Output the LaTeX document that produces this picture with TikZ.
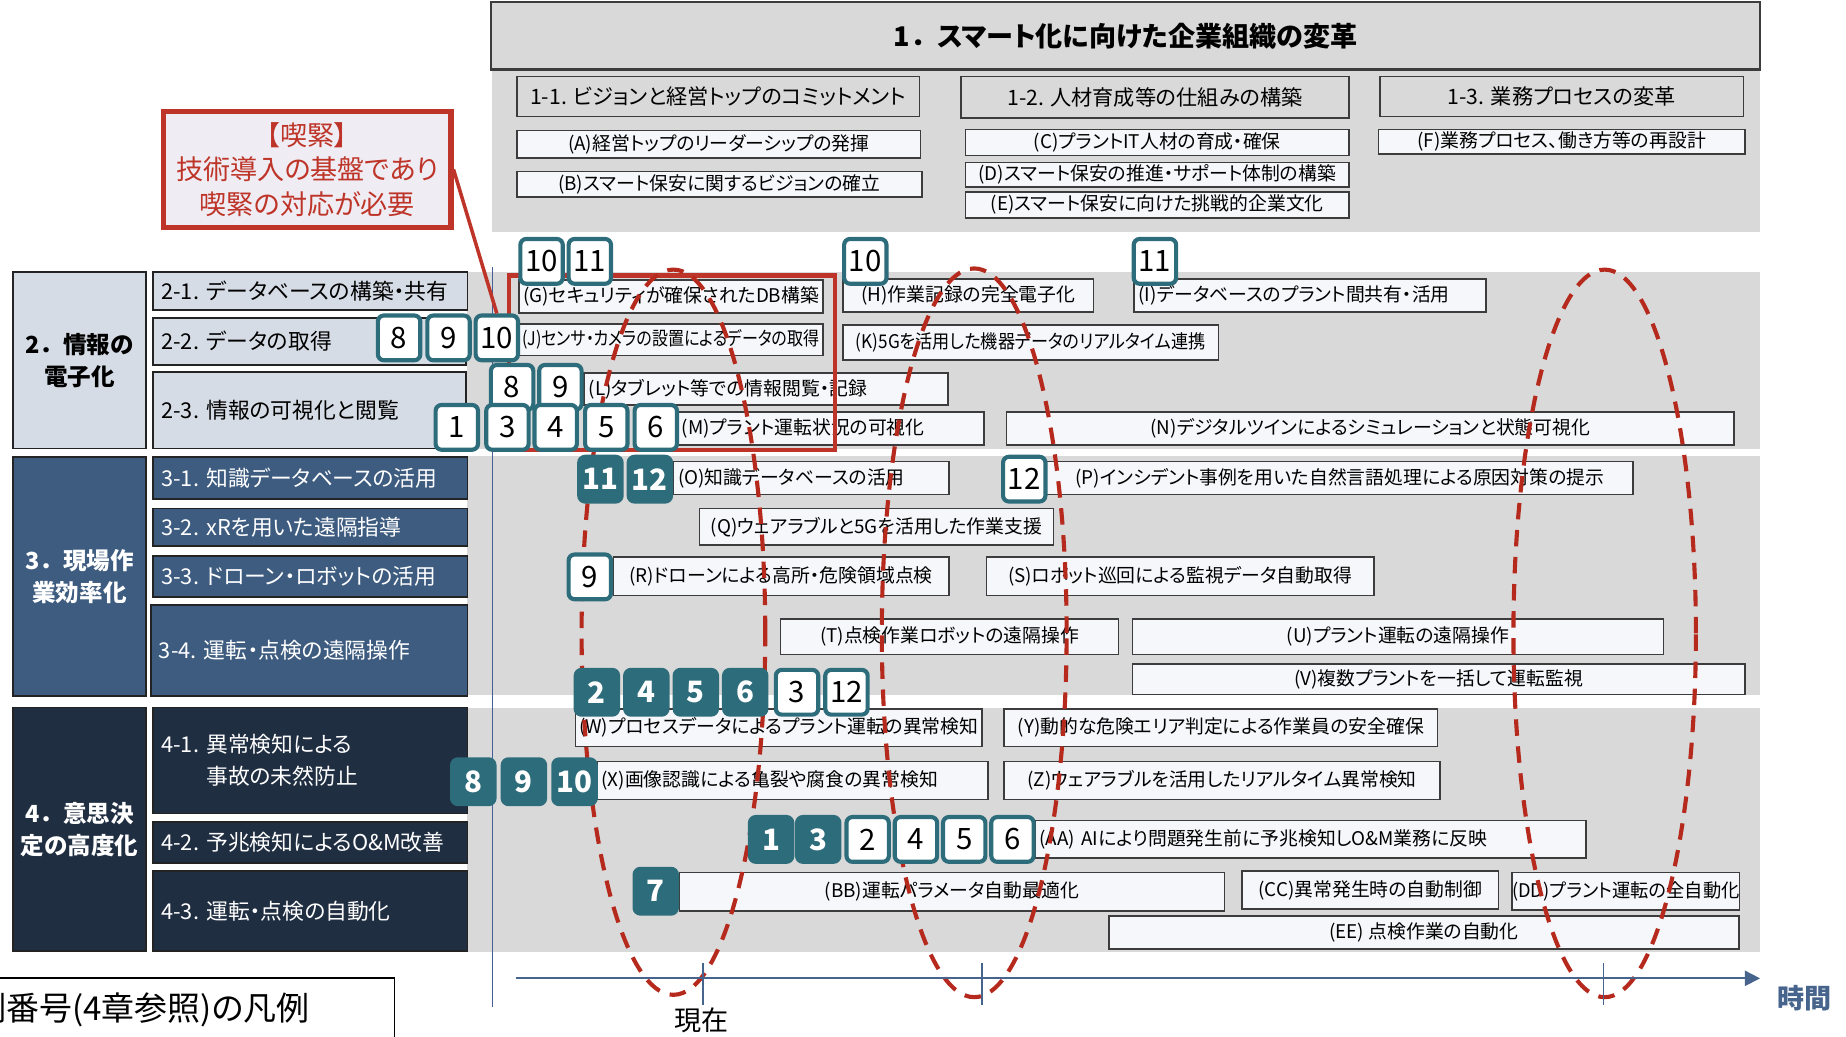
\documentclass[tikz,border=0pt]{standalone}
\usepackage{fontspec}
\setmainfont{Noto Sans CJK JP}[RawFeature=+palt]
\newfontfamily\fullw{Noto Sans CJK JP}
\usepackage{xcolor}
\usepackage{graphicx}
\usepackage{tikz}
\usetikzlibrary{arrows.meta}
\definecolor{bggray}{RGB}{217,217,217}
\definecolor{boxfill}{RGB}{246,247,250}
\definecolor{boxline}{RGB}{60,60,60}
\definecolor{catline}{RGB}{35,35,35}
\definecolor{catlight}{RGB}{214,220,229}
\definecolor{catblue}{RGB}{62,92,128}
\definecolor{catnavy}{RGB}{32,46,66}
\definecolor{badgeteal}{RGB}{45,108,122}
\definecolor{alertred}{RGB}{190,52,40}
\definecolor{alertfill}{RGB}{239,237,243}
\definecolor{ringred}{RGB}{182,42,30}
\definecolor{axisblue}{RGB}{70,100,140}
\definecolor{vlineblue}{RGB}{70,95,150}
\newcommand{\itemfont}{\fontsize{16}{19}\selectfont}
\newcommand{\headfont}{\fontsize{18}{22}\selectfont}
\newcommand{\catfont}{\fontsize{18.5}{27}\selectfont}
\newcommand{\sectfont}{\fontsize{20}{27}\selectfont}
\newcommand{\ttlfont}{\fontsize{23}{27}\selectfont}
\newcommand{\badgefont}{\fontsize{25}{28}\selectfont}
\newcommand{\alertfont}{\fontsize{23}{29}\selectfont}
\newcommand{\axisfont}{\fontsize{23}{26}\selectfont}
\newcommand{\legendfont}{\fontsize{28}{32}\selectfont}
\newcommand{\squeeze}[2]{\scalebox{#1}[1]{#2}}
\newcommand{\zdot}{{\fullw ．}}
\begin{document}
\begin{tikzpicture}[
    x=1pt, y=-1pt,
    item/.style={draw=boxline, fill=boxfill, line width=1.3pt, inner sep=0pt, font=\itemfont},
    itemL/.style={item, align=left, inner xsep=4pt},
    head/.style={draw=boxline, fill=bggray, line width=1.5pt, inner sep=0pt, font=\headfont},
    cat/.style={draw=catline, line width=1.5pt, inner xsep=7pt, inner ysep=0pt, align=left, font=\catfont},
    catA/.style={cat, fill=catlight, text=black},
    catB/.style={cat, fill=catblue, text=white},
    catC/.style={cat, fill=catnavy, text=white},
    sect/.style={draw=catline, line width=1.5pt, minimum width=113pt, align=center, inner sep=0pt, font=\sectfont\bfseries},
    badge/.style={draw=badgeteal, fill=white, line width=3.5pt, rounded corners=5pt, minimum width=36pt, minimum height=38pt, inner sep=0pt, font=\badgefont},
    badgeF/.style={badge, fill=badgeteal, text=white, font=\badgefont\bfseries},
    ring/.style={draw=ringred, line width=3.5pt, dash pattern=on 14pt off 9pt},
    alertbox/.style={draw=alertred, fill=alertfill, line width=4.5pt, text=alertred, align=center, font=\alertfont, minimum width=244pt, minimum height=98pt, inner sep=0pt},
    tick/.style={draw=axisblue, line width=1.3pt}
]
    \useasboundingbox (0,0) rectangle (1568,880);
    \clip (0,0) rectangle (1568,880);

    % Backgrounds
    \fill[bggray] (418,58) rectangle (1495,197);
    \fill[bggray] (397,231) rectangle (1495,381);
    \fill[bggray] (397,387) rectangle (1495,590);
    \fill[bggray] (397,601) rectangle (1495,809);
    \draw[vlineblue, line width=1pt] (418,227) -- (418,855);

    % Section 1
    \node[draw=boxline, fill=bggray, line width=1.8pt, minimum width=1078pt, minimum height=57pt, font=\ttlfont\bfseries] (title) at (956,30.5) {1\zdot スマート化に向けた企業組織の変革};
    \node[head, minimum width=342pt, minimum height=34pt] (h11) at (610,82) {1-1. ビジョンと経営トップのコミットメント};
    \node[head, minimum width=330pt, minimum height=35pt] (h12) at (981,82.5) {1-2. 人材育成等の仕組みの構築};
    \node[head, minimum width=309pt, minimum height=34pt] (h13) at (1326.5,82) {1-3. 業務プロセスの変革};
    \node[item, minimum width=343pt, minimum height=23pt] (ia) at (610.5,122.5) {(A)経営トップのリーダーシップの発揮};
    \node[item, minimum width=344pt, minimum height=22pt] (ib) at (611,156.5) {(B)スマート保安に関するビジョンの確立};
    \node[item, minimum width=326pt, minimum height=22pt] (ic) at (983,121) {(C)プラントIT人材の育成・確保};
    \node[item, minimum width=326pt, minimum height=21pt] (id) at (983,148.5) {(D)スマート保安の推進・サポート体制の構築};
    \node[item, minimum width=326pt, minimum height=22pt] (ie) at (983,174) {(E)スマート保安に向けた挑戦的企業文化};
    \node[item, minimum width=311pt, minimum height=21pt] (if) at (1326.5,120.5) {(F)業務プロセス、働き方等の再設計};

    % Section 2
    \node[sect, fill=catlight, minimum height=150pt] (c2) at (67.5,306) {2\zdot 情報の\\電子化};
    \node[catA, text width=253pt, minimum height=32pt] (s21) at (263.5,247) {2-1.~データベースの構築・共有};
    \node[catA, text width=252pt, minimum height=40pt] (s22) at (263,290) {2-2.~データの取得};
    \node[catA, text width=252pt, minimum height=65pt] (s23) at (263,348.5) {2-3.~情報の可視化と閲覧};
    \node[item, minimum width=258pt, minimum height=28pt] (ig) at (570,252) {(G)セキュリティが確保されたDB構築};
    \node[item, minimum width=213pt, minimum height=28pt] (ih) at (822.5,251) {(H)作業記録の完全電子化};
    \node[itemL, text width=291pt, minimum height=28pt] (ii) at (1112.5,251) {(I)データベースのプラント間共有・活用};
    \node[item, minimum width=258pt, minimum height=27pt] (ij) at (570,288.5) {\squeeze{0.85}{(J)センサ・カメラの設置によるデータの取得}};
    \node[item, minimum width=319pt, minimum height=30pt] (ik) at (875.5,291) {\squeeze{0.91}{(K)5Gを活用した機器データのリアルタイム連携}};
    \node[itemL, text width=301pt, minimum height=27pt] (il) at (650.5,330.5) {(L)タブレット等での情報閲覧・記録};
    \node[itemL, text width=253pt, minimum height=28pt] (im) at (705.5,364) {(M)プラント運転状況の可視化};
    \node[item, minimum width=618pt, minimum height=28pt] (in) at (1164,364) {(N)デジタルツインによるシミュレーションと状態可視化};
    \draw[alertred, line width=3.5pt] (432,234) rectangle (709,382);

    % Section 3
    \node[sect, fill=catblue, text=white, minimum height=203pt] (c3) at (67.5,489.5) {3\zdot 現場作\\業効率化};
    \node[catB, text width=253pt, minimum height=36pt] (s31) at (263.5,406) {3-1.~知識データベースの活用};
    \node[catB, text width=253pt, minimum height=32pt] (s32) at (263.5,448) {3-2.~xRを用いた遠隔指導};
    \node[catB, text width=253pt, minimum height=35pt] (s33) at (263.5,489.5) {3-3.~ドローン・ロボットの活用};
    \node[catB, text width=255pt, minimum height=77pt] (s34) at (262.5,552.5) {3-4.~運転・点検の遠隔操作};
    \node[itemL, text width=226pt, minimum height=28pt] (io) at (689,406) {(O)知識データベースの活用};
    \node[item, minimum width=498pt, minimum height=28pt] (ip) at (1138,406) {(P)インシデント事例を用いた自然言語処理による原因対策の提示};
    \node[item, minimum width=301pt, minimum height=31pt] (iq) at (744.5,447.5) {(Q)ウェアラブルと5Gを活用した作業支援};
    \node[item, minimum width=285pt, minimum height=33pt] (ir) at (663.5,489.5) {(R)ドローンによる高所・危険領域点検};
    \node[item, minimum width=329pt, minimum height=33pt] (is) at (1002.5,489.5) {(S)ロボット巡回による監視データ自動取得};
    \node[item, minimum width=287pt, minimum height=30pt] (it) at (806.5,541) {(T)点検作業ロボットの遠隔操作};
    \node[item, minimum width=451pt, minimum height=30pt] (iu) at (1187.5,541) {(U)プラント運転の遠隔操作};
    \node[item, minimum width=520pt, minimum height=26pt] (iv) at (1222,577) {(V)複数プラントを一括して運転監視};

    % Section 4
    \node[sect, fill=catnavy, text=white, minimum height=207pt] (c4) at (67.5,704.5) {4\zdot 意思決\\定の高度化};
    \node[catC, text width=253pt, minimum height=90pt] (s41) at (263.5,646) {4-1.~異常検知による\\\phantom{4-1.~}事故の未然防止};
    \node[catC, text width=253pt, minimum height=35pt] (s42) at (263.5,715.5) {4-2.~予兆検知によるO\&M改善};
    \node[catC, text width=253pt, minimum height=68pt] (s43) at (263.5,774) {4-3.~運転・点検の自動化};
    \node[item, minimum width=345pt, minimum height=32pt] (iw) at (661.5,618) {(W)プロセスデータによるプラント運転の異常検知};
    \node[item, minimum width=368pt, minimum height=32pt] (iy) at (1037,618) {(Y)動的な危険エリア判定による作業員の安全確保};
    \node[itemL, text width=324pt, minimum height=32pt] (ix) at (673,663) {(X)画像認識による亀裂や腐食の異常検知};
    \node[item, minimum width=370pt, minimum height=32pt] (iz) at (1038,663) {(Z)ウェアラブルを活用したリアルタイム異常検知};
    \node[itemL, text width=460pt, minimum height=32pt] (iaa) at (1113,713) {(AA)~AIにより問題発生前に予兆検知しO\&M業務に反映};
    \node[item, minimum width=463pt, minimum height=33pt] (ibb) at (808.5,757.5) {(BB)運転パラメータ自動最適化};
    \node[item, minimum width=218pt, minimum height=32pt] (icc) at (1164,756) {(CC)異常発生時の自動制御};
    \node[item, minimum width=192pt, minimum height=32pt] (idd) at (1381,757) {\squeeze{0.97}{(DD)プラント運転の全自動化}};
    \node[item, minimum width=535pt, minimum height=28pt] (iee) at (1209.5,792) {(EE) 点検作業の自動化};

    % Time frames
    \draw[ring] (572,537) ellipse [x radius=78pt, y radius=308pt];
    \draw[ring] (827.5,537.5) ellipse [x radius=78.5pt, y radius=309.5pt];
    \draw[ring] (1363,538) ellipse [x radius=77.5pt, y radius=309pt];

    % Case numbers
    \node[badge] (b10a) at (460,222) {10};
    \node[badge] (b11a) at (501,222) {11};
    \node[badge] (b10b) at (735,222) {10};
    \node[badge] (b11b) at (981,222) {11};
    \node[badge] (b8a) at (339,287) {8};
    \node[badge] (b9a) at (381,287) {9};
    \node[badge] (b10c) at (422,287) {10};
    \node[badge] (b8b) at (435,329) {8};
    \node[badge] (b9b) at (476,329) {9};
    \node[badge] (b1a) at (388,363) {1};
    \node[badge] (b3a) at (431,363) {3};
    \node[badge] (b4a) at (472,363) {4};
    \node[badge] (b5a) at (515,363) {5};
    \node[badge] (b6a) at (557,363) {6};
    \node[badgeF] (b11c) at (510,407) {11};
    \node[badgeF] (b12a) at (552,407) {12};
    \node[badge] (b12b) at (870,407) {12};
    \node[badge] (b9c) at (501,490) {9};
    \node[badgeF] (b2a) at (507,588) {2};
    \node[badgeF] (b4b) at (549,588) {4};
    \node[badgeF] (b5b) at (591,588) {5};
    \node[badgeF] (b6b) at (633,588) {6};
    \node[badge] (b3b) at (677,588) {3};
    \node[badge] (b12c) at (719,588) {12};
    \node[badgeF] (b8c) at (402,664) {8};
    \node[badgeF] (b9d) at (445,664) {9};
    \node[badgeF] (b10d) at (488,664) {10};
    \node[badgeF] (b1b) at (655,713) {1};
    \node[badgeF] (b3c) at (695,713) {3};
    \node[badge] (b2b) at (737,713) {2};
    \node[badge] (b4c) at (778,713) {4};
    \node[badge] (b5c) at (819,713) {5};
    \node[badge] (b6c) at (860,713) {6};
    \node[badgeF] (b7) at (557,757) {7};

    % Urgent note
    \node[alertbox] (urgent) at (261,144) {【喫緊】\\技術導入の基盤であり\\喫緊の対応が必要};
    \draw[alertred, line width=3pt] (urgent.east) -- (b10c.north);

    % Time axis
    \coordinate (tstart) at (438,831);
    \coordinate (tend) at (1495,831);
    \draw[axisblue, line width=1.5pt, -{Triangle[length=13pt,width=13pt]}] (tstart) -- (tend);
    \draw[tick] (597,818) -- (597,854);
    \draw[tick] (834,818) -- (834,854);
    \draw[tick] (1362,818) -- (1362,854);
    \node[font=\axisfont] (now) at (596,867) {現在};
    \node[font=\axisfont\bfseries, text=axisblue] (timelbl) at (1533,848) {時間};

    % Legend
    \draw[black, line width=1.5pt] (-10,831) rectangle (335,920);
    \node[anchor=east, inner sep=0pt, font=\legendfont] (legend) at (263,858) {事例番号(4章参照)の凡例};
\end{tikzpicture}
\end{document}
